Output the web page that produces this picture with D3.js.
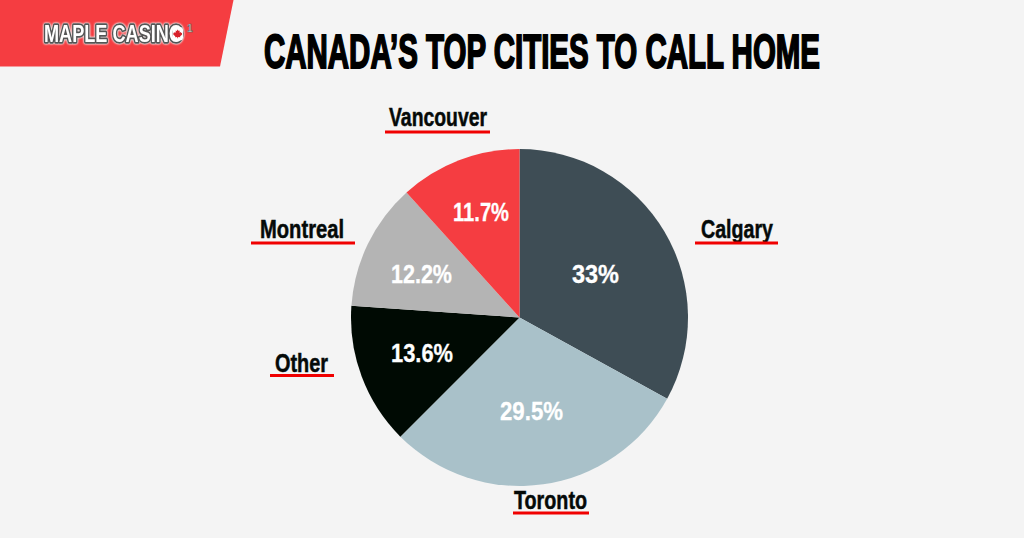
<!DOCTYPE html>
<html>
<head>
<meta charset="utf-8">
<script src="https://d3js.org/d3.v7.min.js"></script>
<style>
  html, body { margin: 0; padding: 0; background: #f4f4f4; }
  svg { display: block; }
  text { font-family: "Liberation Sans Narrow", "Liberation Sans", sans-serif; }
  .logo-text { paint-order: stroke; filter: drop-shadow(0 0 1px #f0f0f0) drop-shadow(0 0 0.5px #f0f0f0); }
</style>
</head>
<body>
<div id="chart-container"></div>
<script>
var categories = ["Calgary", "Toronto", "Other", "Montreal", "Vancouver"];
var shares = [33, 29.5, 13.6, 12.2, 11.7];
var sliceColors = ["#3e4d55", "#a9c1c9", "#000a03", "#b4b4b4", "#f53d41"];

// label box for each city: centre x, baseline y, text width, underline x0/x1
var cityLabels = [
  {x: 737, y: 238, w: 72, u0: 695, u1: 778, uy: 243},
  {x: 550.5, y: 509, w: 73, u0: 513, u1: 589, uy: 513},
  {x: 301.5, y: 372, w: 53, u0: 270, u1: 334, uy: 375.5},
  {x: 302, y: 238, w: 84, u0: 251, u1: 355, uy: 243},
  {x: 438, y: 126, w: 98, u0: 385, u1: 490, uy: 132}
];
var valueLabels = [
  {x: 595.5, y: 283, w: 47},
  {x: 531.5, y: 420, w: 63},
  {x: 422, y: 362, w: 62},
  {x: 421.5, y: 283, w: 61},
  {x: 481, y: 221, w: 56}
];

var svg = d3.select("#chart-container").append("svg")
  .attr("width", 1024).attr("height", 538).attr("viewBox", "0 0 1024 538");

svg.append("rect").attr("width", 1024).attr("height", 538).attr("fill", "#f4f4f4");

// banner top left
svg.append("path").attr("d", "M0,0H233.5L220,66.5H0Z").attr("fill", "#f53d41");

var logo = svg.append("g").attr("class", "logo");
logo.append("text").attr("class", "logo-text").attr("x", 44).attr("y", 41.5).text("MAPLE CASINO")
  .attr("textLength", 139).attr("lengthAdjust", "spacingAndGlyphs")
  .attr("font-size", 23).attr("font-weight", 700)
  .attr("fill", "#ffffff").attr("stroke", "#555555").attr("stroke-width", 3.5).attr("stroke-linejoin", "round");
// leaf sits in the last O of the logo
logo.append("rect").attr("x", 172.5).attr("y", 27).attr("width", 10.5).attr("height", 13.5).attr("rx", 3).attr("fill", "#ffffff");
logo.append("path").attr("d", "M177.7,29.5l1,1.6 1.1,-.5 -.3,2.1 1.2,-.7 .5,1 1,-.2 -.4,1.4 .5,.4 -2.2,1.6 .2,1 -2.2,-.2v1.3h-.8v-1.3l-2.2,.2 .2,-1 -2.2,-1.6 .5,-.4 -.4,-1.4 1,.2 .5,-1 1.2,.7 -.3,-2.1 1.1,.5z")
  .attr("fill", "#d8202a");
logo.append("text").attr("x", 187).attr("y", 32).text("1")
  .attr("font-size", 10).attr("font-weight", 700).attr("fill", "#ffffff")
  .attr("stroke", "#555555").attr("stroke-width", 0.6);

// title
svg.append("text").attr("x", 264).attr("y", 67.5).text("CANADA’S TOP CITIES TO CALL HOME")
  .attr("textLength", 556).attr("lengthAdjust", "spacingAndGlyphs")
  .attr("font-size", 49).attr("font-weight", 700).attr("fill", "#000")
  .attr("stroke", "#000").attr("stroke-width", 2);

var pie = d3.pie().sort(null).value(function (d) { return d; });
var arc = d3.arc().innerRadius(0).outerRadius(168.5);

var chart = svg.append("g").attr("transform", "translate(519.5,317.5)");
chart.selectAll("path")
  .data(pie(shares))
  .enter()
  .append("path")
    .attr("d", arc)
    .attr("fill", function (d, i) { return sliceColors[i]; });

svg.append("g").selectAll("text")
  .data(shares)
  .enter()
  .append("text")
    .attr("x", function (d, i) { return valueLabels[i].x; })
    .attr("y", function (d, i) { return valueLabels[i].y; })
    .attr("text-anchor", "middle")
    .attr("textLength", function (d, i) { return valueLabels[i].w; })
    .attr("lengthAdjust", "spacingAndGlyphs")
    .attr("font-size", 26).attr("font-weight", 700).attr("fill", "#fff")
    .attr("stroke", "#fff").attr("stroke-width", 0.3)
    .text(function (d) { return d + "%"; });

var labels = svg.append("g");
labels.selectAll("text")
  .data(categories)
  .enter()
  .append("text")
    .attr("x", function (d, i) { return cityLabels[i].x; })
    .attr("y", function (d, i) { return cityLabels[i].y; })
    .attr("text-anchor", "middle")
    .attr("textLength", function (d, i) { return cityLabels[i].w; })
    .attr("lengthAdjust", "spacingAndGlyphs")
    .attr("font-size", 26).attr("font-weight", 700).attr("fill", "#050a08")
    .attr("stroke", "#050a08").attr("stroke-width", 0.5)
    .text(function (d) { return d; });
labels.selectAll("line")
  .data(categories)
  .enter()
  .append("line")
    .attr("x1", function (d, i) { return cityLabels[i].u0; })
    .attr("x2", function (d, i) { return cityLabels[i].u1; })
    .attr("y1", function (d, i) { return cityLabels[i].uy; })
    .attr("y2", function (d, i) { return cityLabels[i].uy; })
    .attr("stroke", "#f00000").attr("stroke-width", 3);
</script>
</body>
</html>
